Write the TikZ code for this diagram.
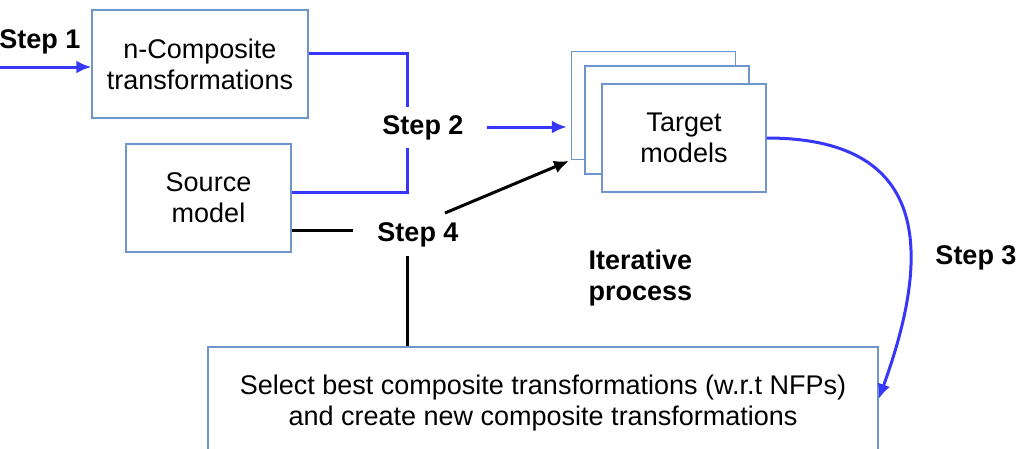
\documentclass[tikz,border=0pt]{standalone}
\usepackage{fontspec}
\setmainfont{Liberation Sans}
\usetikzlibrary{arrows.meta}
\definecolor{boxline}{RGB}{110,150,205}
\definecolor{flowblue}{RGB}{55,55,250}
\begin{document}
\begin{tikzpicture}[x=1pt,y=-1pt,
    box/.style={draw=boxline, line width=1.3pt, fill=white, align=center,
                font=\fontsize{27}{31}\selectfont, inner sep=0pt},
    steplabel/.style={font=\fontsize{27}{31}\selectfont\bfseries, align=left},
    flow/.style={flowblue, line width=3pt},
    back/.style={black, line width=3pt},
    tip/.style={-{Latex[length=15pt,width=13pt]}}]
        \useasboundingbox (0,0) rectangle (1026,448);

        % boxes
        \node[box, minimum width=216, minimum height=108] (ncomp) at (200,64) {n-Composite\\transformations};
        \node[box, minimum width=165, minimum height=108] (source) at (208.5,198) {Source\\model};
        \foreach \n/\x/\y in {tback/653.5/105.5, tmid/667/120}
                \node[box, minimum width=164, minimum height=108] (\n) at (\x,\y) {};
        \node[box, minimum width=164, minimum height=108] (target) at (684,138) {Target\\models};
        \node[box, minimum width=670, minimum height=112] (select) at (543,403)
                {Select best composite transformations (w.r.t NFPs)\\and create new composite transformations};

        % labels
        \node[steplabel] (s1) at (40,42) {Step 1};
        \node[steplabel] (s2) at (423,128) {Step 2};
        \node[steplabel] (s3) at (976,258) {Step 3};
        \node[steplabel] (s4) at (418,235) {Step 4};
        \node[steplabel, anchor=west] (iter) at (585,278) {Iterative\\process};

        \coordinate (in1) at (0,67);
        \coordinate (j2a) at (407,107);
        \coordinate (j2b) at (407,148);
        \coordinate (a2) at (487,127);
        \coordinate (k1) at (353,230);
        \coordinate (k2) at (445,213);
        \coordinate (k3) at (407,256);

        % step 1 and 2
        \draw[flow, tip] (in1) -- (in1 -| ncomp.west);
        \draw[flow] ([yshift=11pt]ncomp.east) -| (j2a);
        \draw[flow] ([yshift=6pt]source.east) -| (j2b);
        \draw[flow, tip, shorten >=4pt] (a2) -- (a2 -| tback.west);

        % step 3
        \draw[flow, tip] (target.east) to[out=0, in=70, looseness=1.45] ([yshift=4pt]select.east);

        % step 4
        \draw[back] ([yshift=-32pt]source.east) -- (k1);
        \draw[back, tip, shorten >=2pt] (k2) -- (tback.south west);
        \draw[back] (k3) -- (k3 |- select.north);
\end{tikzpicture}
\end{document}
